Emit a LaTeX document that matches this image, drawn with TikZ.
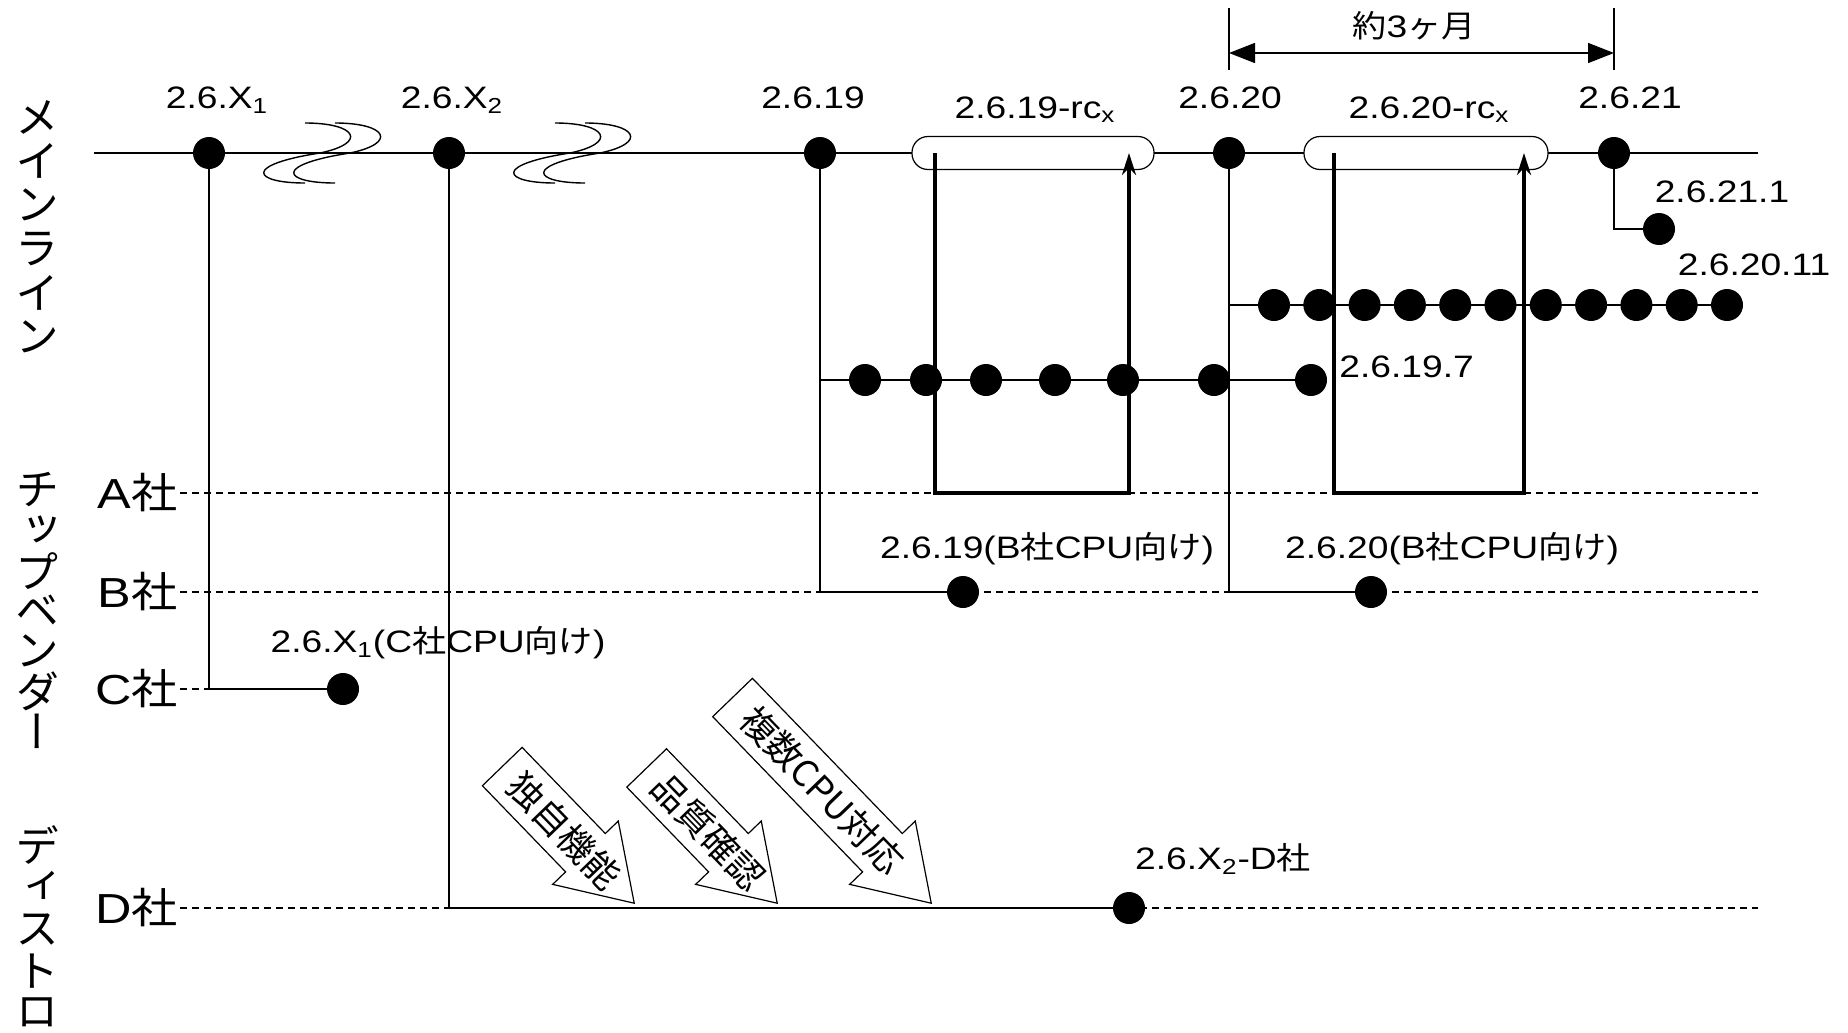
\documentclass[tikz,border=0pt]{standalone}
\usepackage{fontspec}
\setmainfont{Liberation Sans}[FakeStretch=1.2]
\newfontfamily\jp{Noto Sans CJK JP}[FakeStretch=1.1]
\newfontfamily\jparrow{Noto Sans CJK JP}
\newfontfamily\jpvert{Noto Sans CJK JP}[RawFeature=+vert]
\usetikzlibrary{arrows.meta,shapes.arrows,calc}
\newcommand{\wavemark}[2]{\draw[line width=0.7pt] (#1,#2) .. controls +(52,0) and +(48,-10) .. ++(15,30) .. controls +(-78,12) and +(-52,0) .. ++(-15,30);}

\begin{document}
\begin{tikzpicture}[x=0.5pt,y=-0.5pt,
  ver/.style={circle,fill,inner sep=0pt,minimum size=16pt},
  verlbl/.style={anchor=base,inner sep=0pt,font=\fontsize{15.5pt}{18pt}\selectfont},
  mainline/.style={line width=1.2pt},
  branch/.style={line width=0.75pt},
  rowline/.style={line width=0.75pt,dash pattern=on 3.5pt off 2.5pt},
  rowlbl/.style={anchor=east,inner sep=1pt,font=\fontsize{21pt}{24pt}\selectfont},
  pill/.style={draw,fill=white,rounded corners=8pt,line width=0.6pt,minimum height=16.5pt,inner sep=0pt},
  rcloop/.style={line width=1.7pt,-{Stealth[length=11pt,width=7pt]}},
  dimline/.style={line width=0.75pt,{Triangle[length=13pt,width=10pt]}-{Triangle[length=13pt,width=10pt]}},
  bigarrow/.style={draw,fill=white,line width=0.6pt,single arrow,single arrow tip angle=66,single arrow head extend=9pt,inner xsep=0pt,inner ysep=13.5pt,rotate=-46,anchor=tip},
  arrowtext/.style={rotate=-46,inner sep=0pt,font=\jparrow\fontsize{18pt}{20pt}\selectfont},
  vchar/.style={inner sep=0pt,font=\jpvert\fontsize{22pt}{22pt}\selectfont}]
\fill[white] (0,0) rectangle (1848,1033);
\useasboundingbox (0,0) rectangle (1848,1033);

% mainline
\coordinate (mlstart) at (94,153);
\coordinate (mlend) at (1758,153);
\draw[mainline] (mlstart) -- (mlend);
\wavemark{305}{123}
\wavemark{335}{123}
\wavemark{555}{123}
\wavemark{585}{123}

\node[ver] (vx1) at (209,153) {};
\node[ver] (vx2) at (449,153) {};
\node[ver] (v19) at (820,153) {};
\node[ver] (v20) at (1229,153) {};
\node[ver] (v21) at (1614,153) {};
\node[verlbl] (lx1) at (217,108) {2.6.X\textsubscript{1}};
\node[verlbl] (lx2) at (452,108) {2.6.X\textsubscript{2}};
\node[verlbl] (l19) at (813,108) {2.6.19};
\node[verlbl] (l20) at (1230,108) {2.6.20};
\node[verlbl] (l21) at (1630,108) {2.6.21};

% rc
\node[pill,minimum width=121pt] (rc19) at (1033,153) {};
\node[pill,minimum width=122pt] (rc20) at (1426,153) {};
\node[verlbl] (lrc19) at (1035,118) {2.6.19-rc\textsubscript{x}};
\node[verlbl] (lrc20) at (1429,118) {2.6.20-rc\textsubscript{x}};

% 3 months
\coordinate (dtop) at (0,8);
\coordinate (dmid) at (0,53);
\coordinate (dbot) at (0,70);
\draw[branch] (v20 |- dtop) -- (v20 |- dbot);
\draw[branch] (v21 |- dtop) -- (v21 |- dbot);
\draw[dimline] (v20 |- dmid) -- (v21 |- dmid);
\node[verlbl] (span) at (1414,38) {{\jp 約}3{\jp ヶ月}};

% rows
\node[rowlbl] (rowA) at (180,493) {A{\jp 社}};
\node[rowlbl] (rowB) at (180,592) {B{\jp 社}};
\node[rowlbl] (rowC) at (180,689) {C{\jp 社}};
\node[rowlbl] (rowD) at (180,908) {D{\jp 社}};
\draw[rowline] (rowA.east) -- (rowA -| mlend);
\draw[rowline] (rowB.east) -- (rowB -| mlend);
\draw[rowline] (rowC.east) -- (rowC -| vx1);
\draw[rowline] (rowD.east) -- (rowD -| mlend);

% rc loops
\coordinate (rc19l) at (935,153);
\coordinate (rc19r) at (1129,153);
\coordinate (rc20l) at (1334,153);
\coordinate (rc20r) at (1524,153);
\draw[rcloop] (rc19l) |- (rowA -| rc19r) -- (rc19r);
\draw[rcloop] (rc20l) |- (rowA -| rc20r) -- (rc20r);

% stable
\foreach \x [count=\i] in {865,926,986,1055,1123,1214,1311}
  \node[ver] (s\i) at (\x,380) {};
\draw[line width=1pt] (v19 |- s1) -- (s7);
\node[verlbl,anchor=base west] (l197) at (1339,377) {2.6.19.7};
\foreach \i in {1,...,11}
  \node[ver] (t\i) at ({1274+45.3*(\i-1)},305) {};
\draw[line width=1pt] (v20 |- t1) -- (t11);
\node[verlbl] (l2011) at (1754,275) {2.6.20.11};
\node[ver] (u1) at (1659,229) {};
\draw[branch] (v21) |- (u1);
\node[verlbl] (l2111) at (1722,202) {2.6.21.1};

% vendors
\node[ver] (b19) at (963,592) {};
\node[ver] (b20) at (1371,592) {};
\draw[branch] (v19) |- (b19);
\draw[branch] (v20) |- (b20);
\node[verlbl] (lb19) at (1047,558) {2.6.19(B{\jp 社}CPU{\jp 向け})};
\node[verlbl] (lb20) at (1452,558) {2.6.20(B{\jp 社}CPU{\jp 向け})};
\node[ver] (cx1) at (343,689) {};
\draw[branch] (vx1) |- (cx1);
\node[verlbl] (lcx1) at (438,652) {2.6.X\textsubscript{1}(C{\jp 社}CPU{\jp 向け})};

% distro
\node[ver] (dx2) at (1129,908) {};
\draw[branch] (vx2) |- (dx2);
\node[verlbl] (ldx2) at (1223,869) {2.6.X\textsubscript{2}-D{\jp 社}};
\node[bigarrow,minimum height=95pt] (feat) at (635,904) {};
\node[bigarrow,minimum height=94pt] (qa) at (778,904) {};
\node[bigarrow,minimum height=143pt] (multi) at (932,904) {};
\node[arrowtext] (feattxt) at ($(feat.tail)!0.47!(feat.tip)$) {独自機能};
\node[arrowtext] (qatxt) at ($(qa.tail)!0.47!(qa.tip)$) {品質確認};
\node[arrowtext] (multitxt) at ($(multi.tail)!0.45!(multi.tip)$) {複数CPU対応};

% side labels
\foreach \c [count=\i] in {メ,イ,ン,ラ,イ,ン}
  \node[vchar] (main\i) at (37,{117+44*(\i-1)}) {\c};
\foreach \c [count=\i] in {チ,ッ,プ,ベ,ン,ダ,ー}
  \node[vchar] (chip\i) at (37,{490+40.3*(\i-1)}) {\c};
\foreach \c [count=\i] in {デ,ィ,ス,ト,ロ}
  \node[vchar] (dist\i) at (37,{845+42*(\i-1)}) {\c};
\end{tikzpicture}
\end{document}
